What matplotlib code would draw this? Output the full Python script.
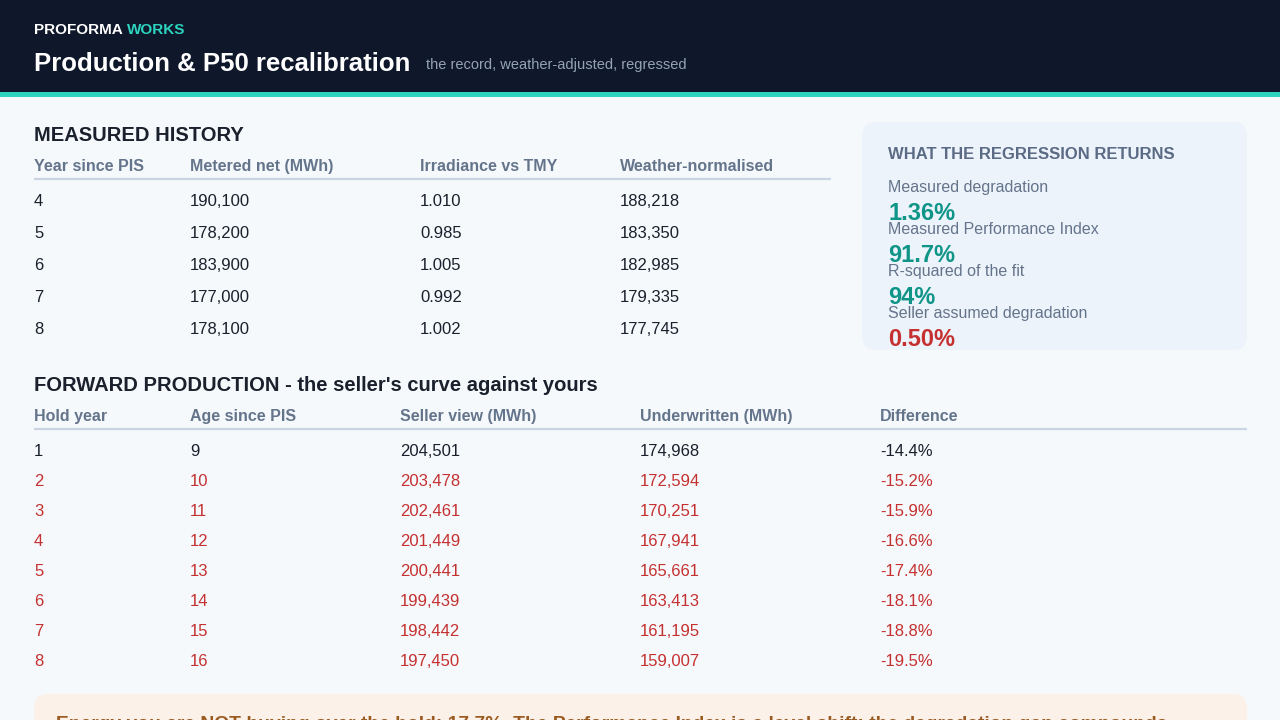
import matplotlib
matplotlib.use("Agg")
import matplotlib.pyplot as plt
from matplotlib.patches import FancyBboxPatch, Rectangle

plt.rcParams['font.family'] = ['Liberation Sans', 'DejaVu Sans']

# measured history
hist_cols = ["Year since PIS", "Metered net (MWh)", "Irradiance vs TMY", "Weather-normalised"]
hist_year = [4, 5, 6, 7, 8]
hist_metered = [190100, 178200, 183900, 177000, 178100]
hist_irr = [1.010, 0.985, 1.005, 0.992, 1.002]
hist_norm = [188218, 183350, 182985, 179335, 177745]

# regression results
reg_labels = ["Measured degradation", "Measured Performance Index",
              "R-squared of the fit", "Seller assumed degradation"]
reg_values = ["1.36%", "91.7%", "94%", "0.50%"]
reg_good = [True, True, True, False]

# forward production
fwd_cols = ["Hold year", "Age since PIS", "Seller view (MWh)", "Underwritten (MWh)", "Difference"]
fwd_hold = [1, 2, 3, 4, 5, 6, 7, 8]
fwd_age = [9, 10, 11, 12, 13, 14, 15, 16]
fwd_seller = [204501, 203478, 202461, 201449, 200441, 199439, 198442, 197450]
fwd_under = [174968, 172594, 170251, 167941, 165661, 163413, 161195, 159007]
fwd_diff = [-14.4, -15.2, -15.9, -16.6, -17.4, -18.1, -18.8, -19.5]

note = ("Energy you are NOT buying over the hold: 17.7%. The Performance Index "
        "is a level shift; the degradation gap compounds.")

BG = "#f5f9fc"
NAVY = "#0f172a"
TEAL = "#2dd4bf"
INK = "#1a202c"
MUTED = "#64748b"
RED = "#c53030"
GREEN = "#0f9488"
RULE = "#cbd5e1"

fig = plt.figure(figsize=(12.8, 7.2), dpi=100, facecolor=BG)
ax = fig.add_axes([0, 0, 1, 1])
ax.set_xlim(0, 1280)
ax.set_ylim(720, 0)
ax.axis("off")
ax.set_facecolor(BG)

# header band
ax.add_patch(Rectangle((0, 0), 1280, 92, color=NAVY, lw=0))
ax.add_patch(Rectangle((0, 92), 1280, 5, color=TEAL, lw=0))

fig.canvas.draw()
r = fig.canvas.get_renderer()

def px_width(t):
    return t.get_window_extent(renderer=r).width

t1 = ax.text(34, 33.5, "PROFORMA", color="white", fontsize=11, fontweight="bold", va="baseline")
ax.text(34 + px_width(t1) + 4, 33.5, "WORKS", color=TEAL, fontsize=11, fontweight="bold",
        va="baseline")
t2 = ax.text(34, 71, "Production & P50 recalibration", color="white", fontsize=18.5,
             fontweight="bold", va="baseline")
ax.text(34 + px_width(t2) + 16, 68.5, "the record, weather-adjusted, regressed",
        color="#94a3b8", fontsize=10.5, va="baseline")

# measured history table
ax.text(34, 141, "MEASURED HISTORY", color=INK, fontsize=14.5, fontweight="bold", va="baseline")
hx = [34, 190, 420, 620]
for x, c in zip(hx, hist_cols):
    ax.text(x, 171, c, color=MUTED, fontsize=11.5, fontweight="bold", va="baseline")
ax.plot([34, 831], [179, 179], color=RULE, lw=1.6, solid_capstyle="butt")
for i in range(len(hist_year)):
    y = 206 + 32 * i
    vals = [str(hist_year[i]), f"{hist_metered[i]:,}", f"{hist_irr[i]:.3f}", f"{hist_norm[i]:,}"]
    for x, v in zip(hx, vals):
        ax.text(x, y, v, color=INK, fontsize=12, va="baseline")

# regression panel
ax.add_patch(FancyBboxPatch((862, 122), 385, 228, boxstyle="round,pad=0,rounding_size=14",
                            fc="#edf3fb", ec="none"))
ax.text(888, 159, "WHAT THE REGRESSION RETURNS", color="#5b6b85", fontsize=12,
        fontweight="bold", va="baseline")
for i, (lab, val, good) in enumerate(zip(reg_labels, reg_values, reg_good)):
    y = 192 + 42 * i
    ax.text(888, y, lab, color=MUTED, fontsize=11.5, va="baseline")
    ax.text(888, y + 28, val, color=GREEN if good else RED, fontsize=17,
            fontweight="bold", va="baseline")

# forward production table
ax.text(34, 391, "FORWARD PRODUCTION - the seller's curve against yours", color=INK,
        fontsize=14.5, fontweight="bold", va="baseline")
fx = [34, 190, 400, 640, 880]
for x, c in zip(fx, fwd_cols):
    ax.text(x, 421, c, color=MUTED, fontsize=11.5, fontweight="bold", va="baseline")
ax.plot([34, 1247], [429, 429], color=RULE, lw=1.6, solid_capstyle="butt")
for i in range(len(fwd_hold)):
    y = 456 + 30 * i
    col = INK if i == 0 else RED
    vals = [str(fwd_hold[i]), str(fwd_age[i]), f"{fwd_seller[i]:,}",
            f"{fwd_under[i]:,}", f"{fwd_diff[i]:.1f}%"]
    for x, v in zip(fx, vals):
        ax.text(x, y, v, color=col, fontsize=12, va="baseline")

# bottom callout (runs off the canvas, as in the source)
ax.add_patch(FancyBboxPatch((34, 694), 1213, 60, boxstyle="round,pad=0,rounding_size=14",
                            fc="#fcf1e8", ec="none"))
ax.text(56, 729, note, color="#9a5b22", fontsize=13.9, fontweight="bold", va="baseline")

fig.savefig("out.png", dpi=100, facecolor=BG)
